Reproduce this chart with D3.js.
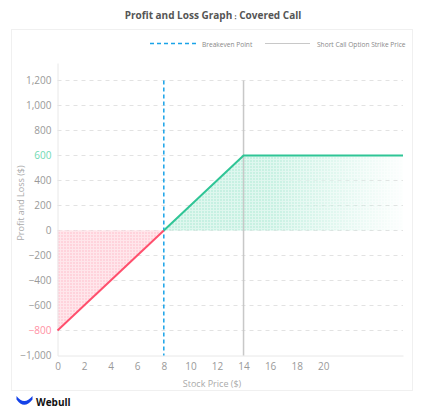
<!DOCTYPE html>
<html>
<head>
<meta charset="utf-8">
<script src="https://cdn.jsdelivr.net/npm/d3@7"></script>
<style>
  body { margin: 0; background: #fff; font-family: "Open Sans", sans-serif; }
</style>
</head>
<body>
<div id="chart"></div>
<script>
// payoff of a covered call: stock bought at 8, call sold at strike 14
const prices = [0, 8, 14, 26];
const pnl = [-800, 0, 600, 600];
const yTicks = [-1000, -800, -600, -400, -200, 0, 200, 400, 600, 800, 1000, 1200];
const xTicks = [0, 2, 4, 6, 8, 10, 12, 14, 16, 18, 20];
const breakeven = 8;
const strike = 14;

const W = 427, H = 413;
const svg = d3.select("#chart").append("svg")
  .attr("width", W).attr("height", H);

const defs = svg.append("defs");

// mesh patterns for the shaded areas
function mesh(id, base, line) {
  const p = defs.append("pattern").attr("id", id)
    .attr("patternUnits", "userSpaceOnUse").attr("width", 3).attr("height", 3);
  p.append("rect").attr("width", 3).attr("height", 3).attr("fill", base);
  p.append("rect").attr("width", 3).attr("height", 1).attr("fill", line);
  p.append("rect").attr("width", 1).attr("height", 3).attr("fill", line);
}
mesh("pinkMesh", "#ffd3dc", "#ffe6eb");
mesh("greenMesh", "#c5f0e1", "#def7ee");

const fade = defs.append("linearGradient").attr("id", "fade")
  .attr("gradientUnits", "userSpaceOnUse")
  .attr("x1", 163).attr("x2", 403).attr("y1", 0).attr("y2", 0);
fade.append("stop").attr("offset", "0").attr("stop-color", "#fff").attr("stop-opacity", 1);
fade.append("stop").attr("offset", "0.45").attr("stop-color", "#fff").attr("stop-opacity", 0.95);
fade.append("stop").attr("offset", "1").attr("stop-color", "#fff").attr("stop-opacity", 0.05);
defs.append("mask").attr("id", "fadeMask")
  .append("rect").attr("x", 0).attr("y", 0).attr("width", W).attr("height", H)
  .attr("fill", "url(#fade)");

// title
const title = svg.append("text").attr("x", 213).attr("y", 19)
  .attr("text-anchor", "middle").attr("font-size", 10).attr("font-weight", "bold")
  .attr("fill", "#555");
title.append("tspan").text("Profit and Loss Graph");
title.append("tspan").attr("font-size", 7).text("：");
title.append("tspan").text("Covered Call");

// panel
svg.append("rect").attr("x", 11.5).attr("y", 29.5).attr("width", 401).attr("height", 361)
  .attr("fill", "#fff").attr("stroke", "#f0f0f0");

const x = d3.scaleLinear().domain([0, 26]).range([57.5, 403]);
const y = d3.scaleLinear().domain([-1000, 1340]).range([355.5, 63]);

// grid
svg.append("g").selectAll("line").data(yTicks.filter(d => d > -1000)).enter()
  .append("line")
  .attr("x1", x(0)).attr("x2", x(26))
  .attr("y1", d => y(d)).attr("y2", d => y(d))
  .attr("stroke", "#e2e2e2").attr("stroke-dasharray", "4,4");

const pts = prices.map((p, i) => ({ p: p, v: pnl[i] }));
const lossPts = pts.filter(d => d.p <= breakeven);
const gainPts = pts.filter(d => d.p >= breakeven);

const area = d3.area().x(d => x(d.p)).y0(y(0)).y1(d => y(d.v));

svg.append("path").datum(lossPts).attr("d", area).attr("fill", "url(#pinkMesh)");
svg.append("path").datum(gainPts).attr("d", area).attr("fill", "url(#greenMesh)")
  .attr("mask", "url(#fadeMask)");

// axes
const yAxis = svg.append("g").attr("transform", "translate(" + x(0) + ",0)")
  .call(d3.axisLeft(y).tickValues(yTicks).tickSize(0).tickPadding(6).tickFormat(d3.format(",")));
const xAxis = svg.append("g").attr("transform", "translate(0," + y(-1000) + ")")
  .call(d3.axisBottom(x).tickValues(xTicks).tickSize(0).tickPadding(7));
[yAxis, xAxis].forEach(a => {
  a.select(".domain").attr("stroke", "#e8e8e8");
  a.selectAll("text").attr("font-family", "Open Sans").attr("font-size", 10).attr("fill", "#999");
});
yAxis.selectAll(".tick text")
  .attr("fill", d => d === 600 ? "#6fd9b3" : d === -800 ? "#ff8fa3" : "#999");

// reference lines
svg.append("line").attr("x1", x(strike)).attr("x2", x(strike))
  .attr("y1", y(1200)).attr("y2", y(-1000))
  .attr("stroke", "#c8c8c8").attr("stroke-width", 1.5);
svg.append("line").attr("x1", x(breakeven)).attr("x2", x(breakeven))
  .attr("y1", y(1200)).attr("y2", y(-1000))
  .attr("stroke", "#1aa3e8").attr("stroke-width", 1.5).attr("stroke-dasharray", "4,3");

// payoff line
const line = d3.line().x(d => x(d.p)).y(d => y(d.v));
svg.append("path").datum(lossPts).attr("d", line)
  .attr("fill", "none").attr("stroke", "#ff4f6d").attr("stroke-width", 2);
svg.append("path").datum(gainPts).attr("d", line)
  .attr("fill", "none").attr("stroke", "#2fc596").attr("stroke-width", 2);

// axis titles
svg.append("text").attr("x", 212).attr("y", 387).attr("text-anchor", "middle")
  .attr("font-size", 9).attr("fill", "#aaa").text("Stock Price ($)");
svg.append("text").attr("transform", "translate(24,203) rotate(-90)").attr("text-anchor", "middle")
  .attr("font-size", 9).attr("fill", "#aaa").text("Profit and Loss  ($)");

// legend
const lg = svg.append("g").attr("font-size", 6.6).attr("fill", "#888");
lg.append("line").attr("x1", 150).attr("x2", 196).attr("y1", 43.5).attr("y2", 43.5)
  .attr("stroke", "#1aa3e8").attr("stroke-width", 1.5).attr("stroke-dasharray", "4,3");
lg.append("text").attr("x", 202).attr("y", 46.5).text("Breakeven Point");
lg.append("line").attr("x1", 265).attr("x2", 310).attr("y1", 43.5).attr("y2", 43.5)
  .attr("stroke", "#c8c8c8").attr("stroke-width", 1);
lg.append("text").attr("x", 317).attr("y", 46.5).text("Short Call Option Strike Price");

// logo
svg.append("path")
  .attr("d", "M16.5,396 Q24,406 32.5,396 L32.5,399.5 Q24,410 16.5,399.5 Z")
  .attr("fill", "#1442e8");
svg.append("text").attr("x", 36).attr("y", 406).attr("font-size", 10)
  .attr("font-weight", "bold").attr("fill", "#111").text("Webull");
</script>
</body>
</html>
